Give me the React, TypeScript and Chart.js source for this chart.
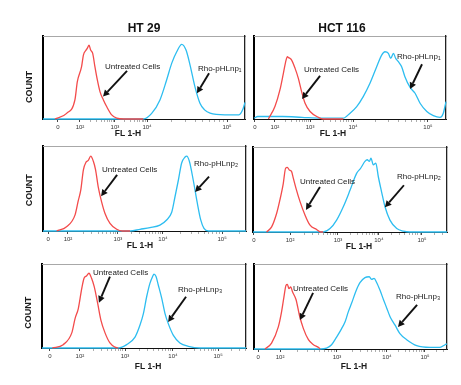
import React, { useEffect, useRef } from "react";
import { Chart, registerables } from "chart.js";

Chart.register(...registerables);

// ---------- text ----------
const cellLines = ["HT 29", "HCT 116"];
const untreatedLabel = "Untreated Cells";
const probeLabels = ["Rho-pHLnp\u2081", "Rho-pHLnp\u2082", "Rho-pHLnp\u2083"];
const xAxisTitle = "FL 1-H";
const yAxisTitle = "COUNT";
const tickLabels = ["0", "10\u00b2", "10\u00b3", "10\u2074", "10\u2075"];

// ---------- tick positions (channel, 0..1000) ----------
const ticksHT29_1 = [74, 183, 356, 515, 911];
const ticksHCT116_1 = [5, 109, 292, 516, 906];
const ticksHT29_2 = [25, 123, 369, 591, 882];
const ticksHCT116_2 = [5, 191, 438, 649, 871];
const ticksHT29_3 = [39, 186, 407, 642, 863];
const ticksHCT116_3 = [21, 135, 430, 689, 886];

// ---------- histograms (channel, count %) ----------
// HT 29 / Rho-pHLnp1
const ht29Untreated1X = [59, 117, 158, 170, 191, 200, 213, 219, 228, 236, 246, 257, 269, 282, 299, 315, 340, 365, 400, 497];
const ht29Untreated1Y = [0, 6.8, 23, 45, 63, 77, 83, 85, 89, 83, 79, 63, 47, 33, 23, 15, 5, 1, 0, 0];
const ht29Probe1X = [0, 497, 538, 579, 612, 637, 662, 687, 708, 728, 752, 777, 800, 827, 900, 970, 990, 1000];
const ht29Probe1Y = [0, 0, 6.8, 23, 47, 67, 81, 90, 83, 65, 39, 19, 11, 7, 5, 5, 12, 20];

// HCT 116 / Rho-pHLnp1
const hct116Untreated1X = [75, 109, 135, 153, 167, 174, 180, 188, 196, 214, 231, 248, 266, 292, 335, 360, 465];
const hct116Untreated1Y = [0, 15, 35, 55, 71, 75, 74, 73, 71, 61, 49, 33, 19, 9, 2, 0, 0];
const hct116Probe1X = [0, 20, 60, 150, 250, 350, 430, 465, 500, 535, 569, 604, 639, 665, 682, 700, 712, 726, 738, 752, 769, 786, 813, 839, 865, 900, 934, 969, 986, 1000];
const hct116Probe1Y = [1, 3, 3, 3, 2, 1, 1, 1, 7, 15, 27, 43, 63, 77, 81, 79, 73, 79, 73, 69, 63, 51, 38, 31, 19, 9, 4, 2, 7, 21];

// HT 29 / Rho-pHLnp2
const ht29Untreated2X = [67, 116, 158, 174, 186, 199, 212, 223, 235, 248, 259, 272, 289, 305, 330, 363, 390, 429];
const ht29Untreated2Y = [0, 5, 19, 36, 48, 72, 81, 83, 88, 82, 72, 52, 34, 21, 9, 2, 0, 0];
const ht29Probe2X = [0, 429, 478, 527, 576, 609, 634, 650, 667, 683, 700, 708, 721, 740, 760, 777, 793, 815, 1000];
const ht29Probe2Y = [0, 0, 2, 4, 7, 13, 22, 40, 60, 80, 87, 88, 82, 60, 33, 13, 3, 0, 0];

// HCT 116 / Rho-pHLnp2
const hct116Untreated2X = [70, 96, 122, 139, 156, 168, 177, 187, 199, 208, 222, 242, 268, 294, 328, 349, 362];
const hct116Untreated2Y = [0, 6, 22, 38, 57, 75, 76, 73, 71, 63, 51, 36, 20, 8, 3, 0, 0];
const hct116Probe2X = [0, 362, 397, 431, 466, 500, 534, 555, 577, 589, 600, 608, 620, 633, 646, 663, 680, 706, 741, 775, 809, 1000];
const hct116Probe2Y = [0, 0, 4, 14, 30, 49, 69, 75, 83, 85, 83, 87, 79, 81, 65, 47, 30, 14, 4, 1, 0, 0];

// HT 29 / Rho-pHLnp3
const ht29Untreated3X = [50, 104, 146, 162, 178, 195, 206, 219, 230, 243, 256, 273, 289, 309, 333, 358, 374];
const ht29Untreated3Y = [0, 4, 18, 35, 47, 71, 83, 86, 89, 83, 73, 53, 33, 18, 6, 1, 0];
const ht29Probe3X = [0, 374, 415, 456, 480, 497, 513, 529, 542, 549, 559, 570, 587, 603, 619, 644, 676, 717, 775, 1000];
const ht29Probe3Y = [0, 0, 4, 13, 27, 41, 61, 77, 85, 88, 85, 75, 59, 41, 29, 15, 6, 2, 0, 0];

// HCT 116 / Rho-pHLnp3
const hct116Untreated3X = [57, 91, 126, 143, 155, 166, 173, 181, 190, 200, 218, 235, 256, 282, 308, 339, 342];
const hct116Untreated3Y = [0, 7, 26, 44, 61, 75, 76, 71, 73, 67, 58, 40, 24, 11, 5, 1, 0];
const hct116Probe3X = [0, 342, 376, 402, 428, 454, 472, 489, 506, 528, 549, 575, 597, 610, 622, 636, 653, 671, 688, 705, 731, 756, 791, 843, 912, 964, 990, 1000];
const hct116Probe3Y = [0, 0, 1, 5, 14, 24, 32, 44, 54, 68, 78, 84, 85, 82, 83, 78, 69, 58, 48, 38, 28, 18, 11, 4, 2, 2, 5, 6];

// ---------- layout ----------
type Panel = {
  row: number; col: number;
  box: { l: number; t: number; r: number; b: number };
  ticks: number[];
  redX: number[]; redY: number[]; blueX: number[]; blueY: number[];
  probe: string;
  uText: [number, number]; uArrow: [number, number, number, number];
  pText: [number, number]; pArrow: [number, number, number, number];
  fl: [number, number];
  countY?: number;
  title?: string; titleX?: number;
};

const panels: Panel[] = [
  { row: 0, col: 0, box: { l: 43, t: 36, r: 245, b: 119 }, ticks: ticksHT29_1,
    redX: ht29Untreated1X, redY: ht29Untreated1Y, blueX: ht29Probe1X, blueY: ht29Probe1Y, probe: probeLabels[0],
    uText: [307, 63], uArrow: [416, 58, 297, 27], pText: [767, 60], pArrow: [822, 55, 762, 31],
    fl: [421, 15], countY: 38.5, title: cellLines[0], titleX: 500 },
  { row: 0, col: 1, box: { l: 254, t: 36, r: 446, b: 119 }, ticks: ticksHCT116_1,
    redX: hct116Untreated1X, redY: hct116Untreated1Y, blueX: hct116Probe1X, blueY: hct116Probe1Y, probe: probeLabels[0],
    uText: [260, 59], uArrow: [344, 52, 250, 24], pText: [745, 75], pArrow: [875, 66, 813, 36],
    fl: [411, 15], title: cellLines[1], titleX: 458 },
  { row: 1, col: 0, box: { l: 43, t: 146, r: 246, b: 231 }, ticks: ticksHT29_2,
    redX: ht29Untreated2X, redY: ht29Untreated2Y, blueX: ht29Probe2X, blueY: ht29Probe2Y, probe: probeLabels[1],
    uText: [291, 72], uArrow: [365, 66, 286, 41], pText: [744, 79], pArrow: [818, 64, 749, 46],
    fl: [478, 15], countY: 48 },
  { row: 1, col: 1, box: { l: 253, t: 147, r: 447, b: 232 }, ticks: ticksHCT116_2,
    redX: hct116Untreated2X, redY: hct116Untreated2Y, blueX: hct116Probe2X, blueY: hct116Probe2Y, probe: probeLabels[1],
    uText: [242, 59], uArrow: [345, 53, 273, 26], pText: [742, 65], pArrow: [778, 55, 680, 29],
    fl: [546, 15] },
  { row: 2, col: 0, box: { l: 42, t: 264, r: 246, b: 348 }, ticks: ticksHT29_3,
    redX: ht29Untreated3X, redY: ht29Untreated3Y, blueX: ht29Probe3X, blueY: ht29Probe3Y, probe: probeLabels[2],
    uText: [250, 89], uArrow: [333, 85, 279, 54], pText: [667, 69], pArrow: [706, 61, 618, 31],
    fl: [520, 19], countY: 42 },
  { row: 2, col: 1, box: { l: 254, t: 264, r: 447, b: 349 }, ticks: ticksHCT116_3,
    redX: hct116Untreated3X, redY: hct116Untreated3Y, blueX: hct116Probe3X, blueY: hct116Probe3Y, probe: probeLabels[2],
    uText: [202, 71], uArrow: [306, 66, 238, 34], pText: [736, 61], pArrow: [845, 52, 746, 26],
    fl: [518, 18] },
];

const FONT = "'Liberation Sans', Arial, sans-serif";
const RED = "#f34b4b";
const BLUE = "#2dbdf0";
const PAD_B = 12;
const AXIS_H = 13; // tickLength 3 + label 6 + 2*padding 2

function geom(p: Panel) {
  const padL = p.col === 0 ? 32 : 8;
  const padR = 6;
  const padT = p.row === 0 ? 24 : 8;
  const w = p.box.r - p.box.l + padL + padR;
  const h = p.box.b - p.box.t + padT + PAD_B + AXIS_H;
  return { left: p.box.l - padL, top: p.box.t - padT, w, h, padL, padR, padT };
}

function buildTicks(major: number[]) {
  const out: any[] = major.map((v, i) => ({ value: v, major: true, lbl: tickLabels[i] }));
  for (let i = 2; i < major.length; i++) {
    const a = major[i - 1];
    const b = major[i];
    for (let k = 2; k <= 9; k++) out.push({ value: a + (b - a) * Math.log10(k), major: false, lbl: "" });
  }
  const n = major.length;
  const d = major[n - 1] - major[n - 2];
  for (let k = 2; k <= 9; k++) {
    const v = major[n - 1] + d * Math.log10(k);
    if (v <= 1000) out.push({ value: v, major: false, lbl: "" });
  }
  out.sort((x, y) => x.value - y.value);
  return out;
}

function drawArrow(ctx: CanvasRenderingContext2D, x1: number, y1: number, x2: number, y2: number) {
  const ang = Math.atan2(y2 - y1, x2 - x1);
  const head = 6.5, hw = 3.4;
  const bx = x2 - head * Math.cos(ang), by = y2 - head * Math.sin(ang);
  ctx.strokeStyle = "#111";
  ctx.fillStyle = "#111";
  ctx.lineWidth = 1.9;
  ctx.beginPath();
  ctx.moveTo(x1, y1);
  ctx.lineTo(bx, by);
  ctx.stroke();
  ctx.beginPath();
  ctx.moveTo(x2, y2);
  ctx.lineTo(bx - hw * Math.sin(ang), by + hw * Math.cos(ang));
  ctx.lineTo(bx + hw * Math.sin(ang), by - hw * Math.cos(ang));
  ctx.closePath();
  ctx.fill();
}

function makeDecor(p: Panel) {
  return {
    id: "decor",
    afterDraw(chart: any) {
      const { ctx, chartArea } = chart;
      const xs = chart.scales.x, ys = chart.scales.y;
      const X = (v: number) => xs.getPixelForValue(v);
      const Y = (v: number) => ys.getPixelForValue(v);
      ctx.save();
      ctx.fillStyle = "#1a1a1a";
      ctx.font = `8px ${FONT}`;
      ctx.textAlign = "left";
      ctx.textBaseline = "middle";
      ctx.fillText(untreatedLabel, X(p.uText[0]), Y(p.uText[1]));
      ctx.fillText(p.probe, X(p.pText[0]), Y(p.pText[1]));
      drawArrow(ctx, X(p.uArrow[0]), Y(p.uArrow[1]), X(p.uArrow[2]), Y(p.uArrow[3]));
      drawArrow(ctx, X(p.pArrow[0]), Y(p.pArrow[1]), X(p.pArrow[2]), Y(p.pArrow[3]));
      ctx.fillStyle = "#1a1a1a";
      ctx.font = `bold 8.5px ${FONT}`;
      ctx.textAlign = "center";
      ctx.fillText(xAxisTitle, X(p.fl[0]), chartArea.bottom + p.fl[1]);
      if (p.countY !== undefined) {
        ctx.save();
        ctx.translate(chartArea.left - 13.5, Y(p.countY));
        ctx.rotate(-Math.PI / 2);
        ctx.font = `bold 9px ${FONT}`;
        ctx.textAlign = "center";
        ctx.fillText(yAxisTitle, 0, 0);
        ctx.restore();
      }
      if (p.title) {
        ctx.font = `bold 12px ${FONT}`;
        ctx.fillStyle = "#111";
        ctx.textAlign = "center";
        ctx.fillText(p.title, X(p.titleX as number), chartArea.top - 7);
      }
      ctx.restore();
    },
  };
}

function PanelChart({ p }: { p: Panel }) {
  const ref = useRef<HTMLCanvasElement>(null);
  const g = geom(p);
  useEffect(() => {
    const red = p.redX.map((x, i) => ({ x, y: p.redY[i] }));
    const blue = p.blueX.map((x, i) => ({ x, y: p.blueY[i] }));
    const chart = new Chart(ref.current as HTMLCanvasElement, {
      type: "line",
      data: {
        datasets: [
          { label: untreatedLabel, data: red, borderColor: RED, borderWidth: 1.3, pointRadius: 0, cubicInterpolationMode: "monotone", clip: false as any, fill: false },
          { label: p.probe, data: blue, borderColor: BLUE, borderWidth: 1.3, pointRadius: 0, cubicInterpolationMode: "monotone", clip: false as any, fill: false },
        ],
      },
      options: {
        animation: false,
        responsive: false,
        devicePixelRatio: 1,
        parsing: false as any,
        layout: { padding: { left: g.padL, right: g.padR, top: g.padT, bottom: PAD_B } },
        plugins: { legend: { display: false }, tooltip: { enabled: false }, title: { display: false } },
        scales: {
          x: {
            type: "linear", position: "bottom", min: 0, max: 1000,
            afterBuildTicks: (s: any) => { s.ticks = buildTicks(p.ticks); },
            ticks: {
              autoSkip: false, maxRotation: 0, minRotation: 0, padding: 2, color: "#333",
              font: { family: FONT, size: 6, lineHeight: 1 },
              callback: (_v: any, i: number, ticks: any[]) => ticks[i].lbl,
            },
            grid: {
              display: true, drawOnChartArea: false, drawTicks: true, tickLength: 3,
              tickColor: (c: any) => (c.tick && c.tick.major ? "#333" : "#777"),
              tickWidth: (c: any) => (c.tick && c.tick.major ? 0.9 : 0.6),
            },
            border: { display: true, color: "#111", width: 1 },
          },
          y: {
            type: "linear", position: "left", min: 0, max: 100,
            ticks: { display: false }, grid: { display: false, drawTicks: false },
            border: { display: true, color: "#000", width: 2 },
          },
          xTop: {
            type: "linear", position: "top", min: 0, max: 1000,
            ticks: { display: false }, grid: { display: false, drawTicks: false },
            border: { display: true, color: "#a8a8a8", width: 1 },
          },
          yRight: {
            type: "linear", position: "right", min: 0, max: 100,
            ticks: { display: false }, grid: { display: false, drawTicks: false },
            border: { display: true, color: "#222", width: 1.3 },
          },
        },
      } as any,
      plugins: [makeDecor(p)],
    });
    return () => chart.destroy();
  }, []);
  return (
    <canvas
      ref={ref}
      width={g.w}
      height={g.h}
      style={{ position: "absolute", left: g.left, top: g.top, width: g.w, height: g.h }}
    />
  );
}

export default function App() {
  return (
    <div style={{ position: "absolute", left: 0, top: 0, width: 461, height: 385, background: "#fff", overflow: "hidden" }}>
      {panels.map((p, i) => (
        <PanelChart key={i} p={p} />
      ))}
    </div>
  );
}
